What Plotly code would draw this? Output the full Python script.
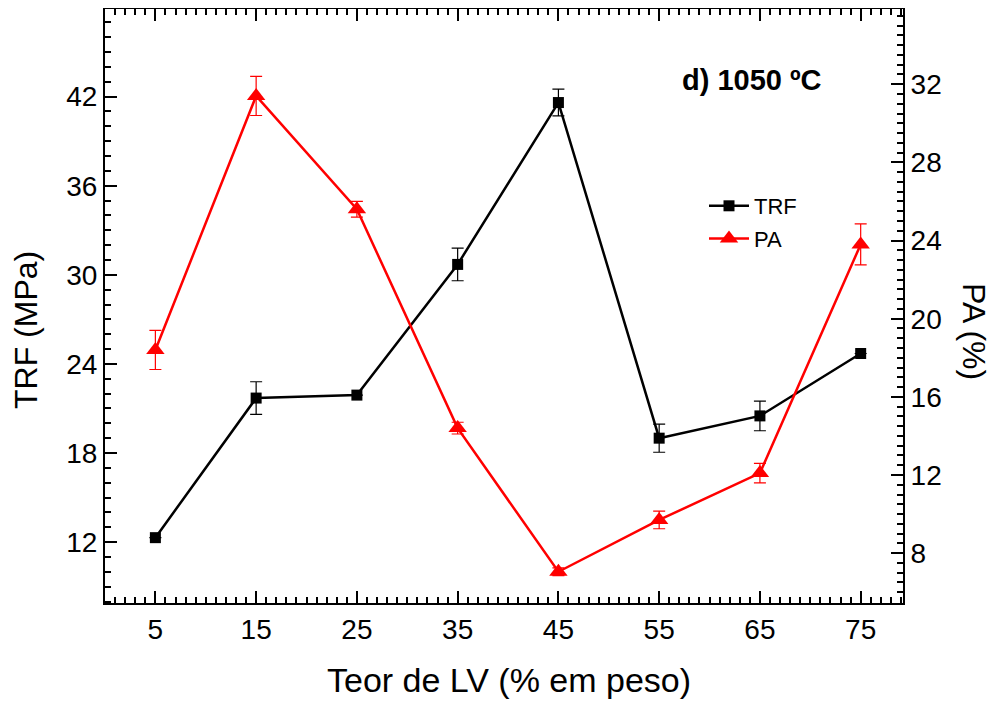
import plotly.graph_objects as go

teor = [5, 15, 25, 35, 45, 55, 65, 75]
trf = [12.3, 21.7, 21.9, 30.7, 41.6, 19.0, 20.5, 24.7]
trf_err = [0.0, 1.1, 0.0, 1.1, 0.9, 0.95, 1.0, 0.0]
pa = [18.4, 31.4, 25.6, 14.4, 7.05, 9.7, 12.1, 23.8]
pa_err = [1.0, 1.0, 0.4, 0.3, 0.2, 0.45, 0.5, 1.05]

x_ticks = [5, 15, 25, 35, 45, 55, 65, 75]
trf_ticks = [12, 18, 24, 30, 36, 42]
pa_ticks = [8, 12, 16, 20, 24, 28, 32]

FONT = "Liberation Sans, Arial, sans-serif"
OFF = 8  # page body margin
W, H = 999 - OFF, 702 - OFF
L, T = 105 - OFF, 9 - OFF
R = W - (903 - OFF)
B = H - (603 - OFF)
PW, PH = W - L - R, H - T - B

def px_x(p):
    return (p - OFF - L) / PW

def px_y(p):
    return (H - B - (p - OFF)) / PH

fig = go.Figure()
fig.add_trace(go.Scatter(
    x=teor, y=trf, name="TRF", mode="lines+markers", legendgroup="a",
    line=dict(color="black", width=2.5),
    marker=dict(symbol="square", size=11, color="black"),
    error_y=dict(type="data", array=trf_err, visible=True, color="black", thickness=1.2, width=6),
    yaxis="y",
))
fig.add_trace(go.Scatter(
    x=teor, y=pa, name="PA", mode="lines+markers", legendgroup="b",
    line=dict(color="red", width=2.5),
    marker=dict(symbol="triangle-up", size=16, color="red"),
    error_y=dict(type="data", array=pa_err, visible=True, color="red", thickness=1.2, width=6),
    yaxis="y2",
))

axis_common = dict(
    showline=True, linecolor="black", linewidth=2,
    ticks="inside", ticklen=12, tickwidth=2, tickcolor="black",
    showgrid=False, zeroline=False, automargin=False,
    tickfont=dict(family=FONT, size=28, color="black"),
)

fig.update_layout(
    width=W, height=H,
    margin=dict(l=L, r=R, t=T, b=B, autoexpand=False),
    paper_bgcolor="white", plot_bgcolor="white",
    font=dict(family=FONT, color="black"),
    xaxis=dict(
        **axis_common,
        range=[0, 79.2], tickvals=x_ticks, mirror="ticks",
        minor=dict(dtick=1, tick0=0, ticks="inside", ticklen=6, tickwidth=1.5, tickcolor="black"),
    ),
    yaxis=dict(
        **axis_common,
        range=[7.9, 47.9], tickvals=trf_ticks,
        minor=dict(dtick=1, tick0=0, ticks="inside", ticklen=6, tickwidth=1.5, tickcolor="black"),
    ),
    yaxis2=dict(
        **axis_common,
        range=[5.45, 35.85], tickvals=pa_ticks, overlaying="y", side="right",
        minor=dict(dtick=0.5, tick0=0, ticks="inside", ticklen=6, tickwidth=1.5, tickcolor="black"),
    ),
    legend=dict(
        x=px_x(704), y=px_y(185), xanchor="left", yanchor="top",
        bgcolor="rgba(0,0,0,0)", font=dict(family=FONT, size=22),
        tracegroupgap=1, itemwidth=40,
    ),
    showlegend=True,
)

fig.add_annotation(
    x=px_x(752), y=px_y(80), xref="paper", yref="paper", xanchor="center", yanchor="middle",
    text="<b>d) 1050 ºC</b>", showarrow=False,
    font=dict(family=FONT, size=29, color="black"),
)
fig.add_annotation(
    x=px_x(974), y=px_y(331), xref="paper", yref="paper", xanchor="center", yanchor="middle",
    text="PA (%)", showarrow=False, textangle=90,
    font=dict(family=FONT, size=32, color="black"),
)
fig.add_annotation(
    x=px_x(26), y=px_y(330), xref="paper", yref="paper", xanchor="center", yanchor="middle",
    text="TRF (MPa)", showarrow=False, textangle=-90,
    font=dict(family=FONT, size=32, color="black"),
)
fig.add_annotation(
    x=px_x(509), y=px_y(680), xref="paper", yref="paper", xanchor="center", yanchor="middle",
    text="Teor de LV (% em peso)", showarrow=False,
    font=dict(family=FONT, size=34, color="black"),
)

fig.write_html("out.html")
